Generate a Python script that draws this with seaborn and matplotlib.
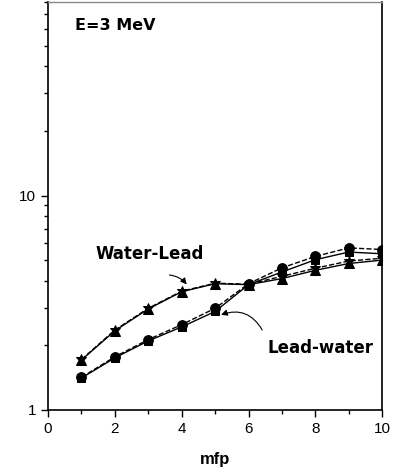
import pandas as pd
import numpy as np
import seaborn as sns
import matplotlib
matplotlib.use("Agg")
import matplotlib.pyplot as plt

# data
mfp = [1, 2, 3, 4, 5, 6, 7, 8, 9, 10]
water_lead = [1.71, 2.34, 2.96, 3.56, 3.88, 3.84, 4.10, 4.48, 4.82, 5.00]
water_lead_b = [1.72, 2.36, 2.98, 3.58, 3.90, 3.86, 4.20, 4.58, 4.95, 5.10]
lead_water = [1.41, 1.75, 2.10, 2.44, 2.88, 3.84, 4.40, 5.02, 5.45, 5.35]
lead_water_b = [1.42, 1.77, 2.13, 2.50, 2.98, 3.88, 4.60, 5.20, 5.70, 5.60]

sns.set_style("ticks")
plt.rcParams['font.family'] = ['Liberation Sans', 'DejaVu Sans']
plt.rcParams['text.color'] = 'black'
plt.rcParams['axes.labelcolor'] = 'black'
plt.rcParams['xtick.color'] = 'black'
plt.rcParams['ytick.color'] = 'black'

df = pd.DataFrame({"mfp": mfp, "wl": water_lead, "wl2": water_lead_b,
                   "lw": lead_water, "lw2": lead_water_b})

fig = plt.figure(figsize=(3.94, 4.68), dpi=100)
ax = fig.add_axes([0.122, 0.124, 0.848, 0.872])

sns.lineplot(data=df, x="mfp", y="wl", ax=ax, color="black", lw=1, marker="^", ms=7, mec="black")
sns.lineplot(data=df, x="mfp", y="wl2", ax=ax, color="black", lw=1, ls="--", marker="*", ms=7, mec="black")
sns.lineplot(data=df, x="mfp", y="lw", ax=ax, color="black", lw=1, marker="s", ms=6, mec="black")
sns.lineplot(data=df, x="mfp", y="lw2", ax=ax, color="black", lw=1, ls="--", marker="o", ms=7, mec="black")

ax.set_yscale("log")
ax.set_xlim(0, 10)
ax.set_ylim(1, 80)
ax.set_xticks([0, 2, 4, 6, 8, 10])
ax.set_xticks(range(0, 11), minor=True)
ax.set_yticks([1, 10])
ax.set_yticklabels(["1", "10"])
ax.set_yticks([v * 10 ** d for d in (0, 1) for v in range(2, 10) if v * 10 ** d <= 80], minor=True)
ax.yaxis.set_minor_formatter(matplotlib.ticker.NullFormatter())
ax.tick_params(axis="both", which="major", length=5, width=1, labelsize=11,
               color="black", labelcolor="black")
ax.tick_params(axis="both", which="minor", length=3, width=1, color="black")

ax.set_xlabel("mfp", fontsize=12, fontweight="bold", labelpad=12, color="black")
ax.set_ylabel("")
for s in ["left", "bottom", "right"]:
    ax.spines[s].set_linewidth(1.2)
    ax.spines[s].set_color("black")
ax.spines["top"].set_color("#888888")
ax.spines["top"].set_linewidth(1)

ax.text(0.08, 0.96, "E=3 MeV", transform=ax.transAxes, fontsize=11.5,
        fontweight="bold", va="top", ha="left", family="DejaVu Sans", color="black")

ax.annotate("", xy=(4.2, 3.76), xytext=(3.55, 4.27),
            arrowprops=dict(arrowstyle="-|>", color="black", lw=0.8,
                            connectionstyle="arc3,rad=-0.25", mutation_scale=9))
ax.text(3.05, 5.35, "Water-Lead", fontsize=12, fontweight="bold", ha="center", va="center",
        family="DejaVu Sans", color="black")

ax.annotate("", xy=(5.1, 2.75), xytext=(6.45, 2.3),
            arrowprops=dict(arrowstyle="-|>", color="black", lw=0.8,
                            connectionstyle="arc3,rad=0.45", mutation_scale=9))
ax.text(8.15, 1.95, "Lead-water", fontsize=12, fontweight="bold", ha="center", va="center",
        family="DejaVu Sans", color="black")

fig.savefig("out.png", dpi=100)
